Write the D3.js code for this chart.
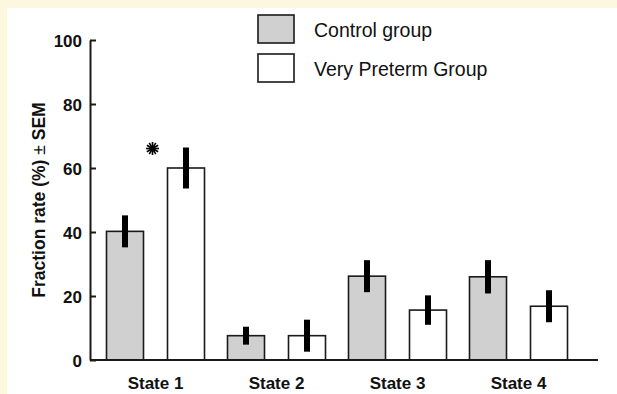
<!DOCTYPE html>
<html>
<head>
<meta charset="utf-8">
<script src="https://cdn.jsdelivr.net/npm/d3@7"></script>
<style>
  html, body { margin: 0; padding: 0; background: #fdf7df; }
  svg { display: block; }
  svg text { font-family: Arial, "Liberation Sans", sans-serif; }
</style>
</head>
<body>
<svg id="chart" width="617" height="394"></svg>
<script>
// data
const states = ["State 1", "State 2", "State 3", "State 4"];
const groups = ["Control group", "Very Preterm Group"];
const controlMean = [40.2, 7.6, 26.2, 26.0];
const controlSem = [5.0, 2.8, 5.0, 5.2];
const pretermMean = [60.0, 7.6, 15.6, 16.8];
const pretermSem = [6.4, 5.0, 4.6, 5.0];
const yTicks = [0, 20, 40, 60, 80, 100];
const significant = ["State 1"];

const width = 617, height = 394;
const svg = d3.select("#chart");

// white panel (cream border top and left)
svg.append("rect")
    .attr("x", 7).attr("y", 8)
    .attr("width", width - 7).attr("height", height - 8)
    .attr("fill", "#fff");

const y = d3.scaleLinear().domain([0, 100]).range([360, 40]);
const x0 = d3.scaleBand().domain(states).range([95, 579]).padding(0);
const x1 = d3.scaleBand().domain(groups).range([0, 98]).paddingInner(0.3934);
const fill = d3.scaleOrdinal().domain(groups).range(["#d0d0d0", "#ffffff"]);

const rows = [];
states.forEach((s, i) => {
    rows.push({state: s, group: groups[0], mean: controlMean[i], sem: controlSem[i]});
    rows.push({state: s, group: groups[1], mean: pretermMean[i], sem: pretermSem[i]});
});
const barX = d => x0(d.state) + x0.bandwidth() / 2 - 49 + x1(d.group);

// bars
svg.append("g").selectAll("rect")
    .data(rows)
    .join("rect")
    .attr("x", d => barX(d))
    .attr("y", d => y(d.mean))
    .attr("width", x1.bandwidth())
    .attr("height", d => y(0) - y(d.mean))
    .attr("fill", d => fill(d.group))
    .attr("stroke", "#1a1a1a")
    .attr("stroke-width", 1.6);

// error bars (thick black)
svg.append("g").selectAll("line")
    .data(rows)
    .join("line")
    .attr("x1", d => barX(d) + x1.bandwidth() / 2)
    .attr("x2", d => barX(d) + x1.bandwidth() / 2)
    .attr("y1", d => y(d.mean + d.sem))
    .attr("y2", d => y(d.mean - d.sem))
    .attr("stroke", "#000")
    .attr("stroke-width", 6);

// y axis, ticks pointing inwards
const yAxis = svg.append("g")
    .attr("transform", "translate(90,0)")
    .call(d3.axisRight(y).tickValues(yTicks).tickSize(6).tickSizeOuter(0).tickFormat(d3.format("d")));
yAxis.attr("font-family", null).attr("font-size", null);
yAxis.select(".domain").attr("stroke", "#1a1a1a").attr("stroke-width", 2);
yAxis.selectAll(".tick line").attr("stroke", "#1a1a1a").attr("stroke-width", 2);
yAxis.selectAll(".tick text")
    .attr("x", -8)
    .attr("dy", "0.36em")
    .attr("text-anchor", "end")
    .attr("font-size", 17)
    .attr("font-weight", "bold")
    .attr("fill", "#111");

// x axis line
svg.append("line")
    .attr("x1", 90).attr("x2", 598)
    .attr("y1", y(0)).attr("y2", y(0))
    .attr("stroke", "#1a1a1a").attr("stroke-width", 2);

svg.append("g").selectAll("text")
    .data(states)
    .join("text")
    .attr("x", d => x0(d) + x0.bandwidth() / 2)
    .attr("y", 389)
    .attr("text-anchor", "middle")
    .attr("font-size", 17)
    .attr("font-weight", "bold")
    .attr("fill", "#111")
    .text(d => d);

// y axis title
const title = svg.append("text")
    .attr("transform", `translate(45,${y(50)}) rotate(-90)`)
    .attr("text-anchor", "middle")
    .attr("font-size", 17.5)
    .attr("font-weight", "bold")
    .attr("fill", "#111");
title.append("tspan").text("Fraction rate (%) ");
title.append("tspan").attr("font-weight", "normal").text("±");
title.append("tspan").text(" SEM");

// significance star
significant.forEach(s => {
    const i = states.indexOf(s);
    const cx = x0(s) + x0.bandwidth() / 2 - 3;
    const cy = y(pretermMean[i] + pretermSem[i]) + 1;
    const star = svg.append("g").attr("transform", `translate(${cx},${cy})`);
    d3.range(12).forEach(k => {
        const a = k * Math.PI / 6;
        star.append("line")
            .attr("x1", 0).attr("y1", 0)
            .attr("x2", 6.5 * Math.cos(a)).attr("y2", 6.5 * Math.sin(a))
            .attr("stroke", "#000").attr("stroke-width", 1.6);
    });
    star.append("circle").attr("r", 3).attr("fill", "#000");
});

// legend
const legend = svg.append("g").selectAll("g")
    .data(groups)
    .join("g")
    .attr("transform", (d, i) => `translate(258,${15 + i * 39})`);
legend.append("rect")
    .attr("width", 36).attr("height", 28)
    .attr("fill", d => fill(d))
    .attr("stroke", "#1a1a1a").attr("stroke-width", 1.6);
legend.append("text")
    .attr("x", 56).attr("y", 22)
    .attr("font-size", 19.5)
    .attr("fill", "#111")
    .text(d => d);
</script>
</body>
</html>
